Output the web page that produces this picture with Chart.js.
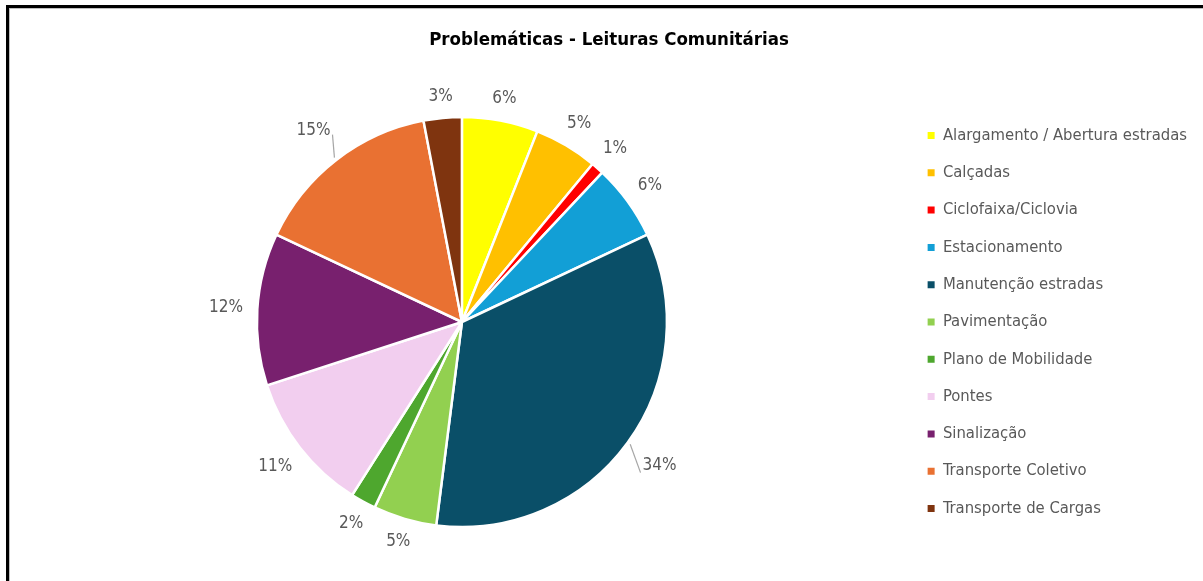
<!DOCTYPE html>
<html lang="pt-BR">
<head>
<meta charset="utf-8">
<title>Problemáticas - Leituras Comunitárias</title>
<script src="https://cdn.jsdelivr.net/npm/chart.js@4.4.1/dist/chart.umd.min.js"></script>
<style>
  html, body { margin: 0; padding: 0; background: #ffffff; overflow: hidden; }
  #wrap { position: relative; width: 1203px; height: 581px; }
  #frame {
    position: absolute; left: 6px; top: 5px; width: 1300px; height: 700px;
    border: 3px solid #000000; box-shadow: inset 1px 1px 0 #bfbfbf;
    pointer-events: none;
  }
  canvas { position: absolute; left: 0; top: 0; }
</style>
</head>
<body>
<div id="wrap">
  <canvas id="chart" width="1203" height="581"></canvas>
  <div id="frame"></div>
</div>
<script>
// Categories and their shares (percent)
const categories = [
  'Alargamento / Abertura estradas',
  'Calçadas',
  'Ciclofaixa/Ciclovia',
  'Estacionamento',
  'Manutenção estradas',
  'Pavimentação',
  'Plano de Mobilidade',
  'Pontes',
  'Sinalização',
  'Transporte Coletivo',
  'Transporte de Cargas'
];
const shares = [6, 5, 1, 6, 34, 5, 2, 11, 12, 15, 3];
const sliceColors = [
  '#FFFF00', '#FFC000', '#FF0000', '#129FD6', '#0A4F68', '#92D050',
  '#4EA72E', '#F2CEEF', '#78206E', '#E97132', '#7F340F'
];
const chartTitle = 'Problemáticas - Leituras Comunitárias';

const NARROW = "'Liberation Sans Narrow', 'Arial Narrow', 'DejaVu Sans Condensed', sans-serif";
const LEADER_MIN = 15;   // slices this large get their label pushed out with a leader line

// Title centred over the whole frame (chart + legend)
const frameTitle = {
  id: 'frameTitle',
  afterDraw(chart) {
    const ctx = chart.ctx;
    ctx.save();
    ctx.font = 'bold 18.5px ' + NARROW;
    ctx.fillStyle = '#000000';
    ctx.textAlign = 'center';
    ctx.textBaseline = 'middle';
    ctx.fillText(chartTitle, 609, 40);
    ctx.restore();
  }
};

// Percentage labels placed just outside each slice
const outsideLabels = {
  id: 'outsideLabels',
  afterDatasetsDraw(chart) {
    const ctx = chart.ctx;
    const meta = chart.getDatasetMeta(0);
    const values = chart.data.datasets[0].data;
    const total = values.reduce((a, b) => a + b, 0);
    ctx.save();
    ctx.font = '17px ' + NARROW;
    ctx.fillStyle = '#595959';
    ctx.textAlign = 'center';
    ctx.textBaseline = 'middle';
    meta.data.forEach((arc, i) => {
      const p = arc.getProps(['x', 'y', 'startAngle', 'endAngle', 'outerRadius'], true);
      const mid = (p.startAngle + p.endAngle) / 2;
      const cx = Math.cos(mid), cy = Math.sin(mid);
      const text = Math.round(values[i] / total * 100) + '%';
      const w = ctx.measureText(text).width;
      const h = 12;
      const leader = values[i] >= LEADER_MIN;
      const gap = leader ? 22 : 14;
      const d = p.outerRadius + gap + Math.abs(cx) * w / 2 + Math.abs(cy) * h / 2;
      const lx = p.x + cx * d, ly = p.y + cy * d;
      if (leader) {
        const sx = p.x + cx * (p.outerRadius + 3), sy = p.y + cy * (p.outerRadius + 3);
        const ex = lx - Math.sign(cx) * (w / 2 + 2);
        const ey = ly + (cy > 0 ? 7 : 4);
        ctx.save();
        ctx.strokeStyle = '#A6A6A6';
        ctx.lineWidth = 1.2;
        ctx.beginPath();
        ctx.moveTo(sx, sy);
        ctx.lineTo(ex, ey);
        ctx.stroke();
        ctx.restore();
      }
      ctx.fillText(text, lx, ly);
    });
    ctx.restore();
  }
};

const baseLegendLabels = Chart.overrides.doughnut.plugins.legend.labels.generateLabels;

new Chart(document.getElementById('chart'), {
  type: 'pie',
  data: {
    labels: categories,
    datasets: [{
      data: shares,
      backgroundColor: sliceColors,
      borderColor: '#FFFFFF',
      borderWidth: 2.5,
      radius: 205
    }]
  },
  options: {
    responsive: false,
    animation: false,
    layout: { padding: { left: 17, right: 6, top: 63, bottom: 0 } },
    plugins: {
      tooltip: { enabled: false },
      title: { display: false },
      legend: {
        display: true,
        position: 'right',
        labels: {
          boxWidth: 7,
          boxHeight: 7,
          padding: 20.8,
          color: '#595959',
          font: { family: NARROW, size: 16.5 },
          generateLabels(chart) {
            return baseLegendLabels(chart).map(item => Object.assign(item, { lineWidth: 0, strokeStyle: 'rgba(0,0,0,0)' }));
          }
        }
      }
    }
  },
  plugins: [outsideLabels, frameTitle]
});
</script>
</body>
</html>
